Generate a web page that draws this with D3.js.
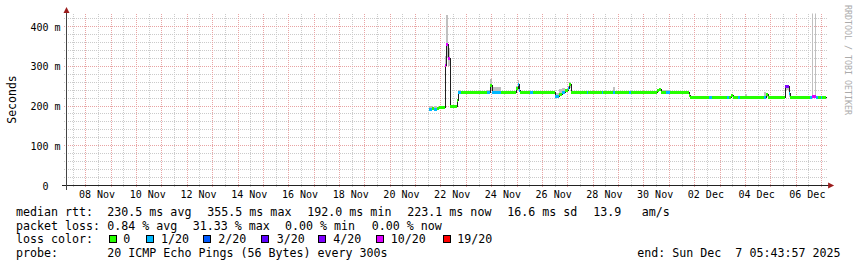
<!DOCTYPE html>
<html>
<head>
<meta charset="utf-8">
<script src="https://cdn.jsdelivr.net/npm/d3@7"></script>
<style>
  body { margin: 0; background: #fff; }
  text { font-family: "DejaVu Sans Mono", monospace; white-space: pre; }
</style>
</head>
<body>
<div id="graph"></div>
<script>
// ---- data ----
const startTime = "2025-11-07T05:43:57";
const endTime = "2025-12-07T05:43:57";
const lastUpdate = "2025-12-07T03:50";

const stepTimes = [
  "2025-11-21T12:15", "2025-11-21T15:05", "2025-11-21T17:00", "2025-11-21T19:50", "2025-11-21T21:45",
  "2025-11-22T03:25", "2025-11-22T04:50", "2025-11-22T06:45", "2025-11-22T08:35", "2025-11-22T14:45",
  "2025-11-22T16:10", "2025-11-22T18:30", "2025-11-23T19:10", "2025-11-23T22:25", "2025-11-23T23:50",
  "2025-11-24T08:25", "2025-11-24T23:05", "2025-11-25T00:30", "2025-11-25T01:55", "2025-11-25T02:50",
  "2025-11-25T11:50", "2025-11-25T14:40", "2025-11-26T11:30", "2025-11-26T15:15", "2025-11-26T18:05",
  "2025-11-26T20:55", "2025-11-26T23:45", "2025-11-27T01:10", "2025-11-27T02:35", "2025-11-27T17:45",
  "2025-11-27T19:10", "2025-11-28T07:55", "2025-11-28T09:20", "2025-11-28T18:50", "2025-11-28T20:40",
  "2025-11-29T09:55", "2025-11-29T11:20", "2025-11-30T12:00", "2025-11-30T13:50", "2025-11-30T15:45",
  "2025-11-30T20:30", "2025-12-01T00:15", "2025-12-01T18:40", "2025-12-01T19:35", "2025-12-02T13:35",
  "2025-12-02T16:00", "2025-12-03T06:10", "2025-12-03T08:05", "2025-12-03T10:25", "2025-12-03T11:50",
  "2025-12-03T16:35", "2025-12-03T18:55", "2025-12-03T23:10", "2025-12-04T01:05", "2025-12-04T17:40",
  "2025-12-04T19:35", "2025-12-04T21:25", "2025-12-05T13:30", "2025-12-05T16:50", "2025-12-05T18:15",
  "2025-12-06T12:40", "2025-12-06T15:05", "2025-12-06T16:20", "2025-12-06T17:25", "2025-12-06T18:35",
  "2025-12-06T20:15", "2025-12-06T23:05", "2025-12-07T00:30"
];
const medianMs = [
  193, 195, 192, 194, 198,
  302, 355, 320, 199, 215,
  236, 236, 235, 252, 236,
  236, 245, 255, 240, 234,
  234, 234, 226, 231, 236,
  240, 246, 255, 234, 234,
  234, 234, 234, 234, 234,
  234, 234, 240, 244, 236,
  234, 234, 228, 223, 223,
  223, 223, 223, 227, 223,
  223, 223, 223, 223, 223,
  230, 223, 250, 232, 223,
  223, 224, 224, 224, 223,
  223, 223, 223
];
const lossCount = [
  1, 0, 1, 0, 0,
  10, 10, 10, 0, 0,
  1, 0, 1, 0, 1,
  0, 0, 1, 1, 0,
  1, 0, 1, 0, 1,
  0, 1, 0, 0, 1,
  0, 1, 0, 1, 0,
  1, 0, 0, 0, 0,
  1, 0, 0, 0, 1,
  0, 1, 0, 0, 0,
  1, 0, 0, 0, 1,
  0, 0, 4, 1, 0,
  1, 10, 10, 10, 1,
  0, 1, 0
];
const smokeLo = [
  189, 191, 189, 191, 196,
  290, 320, 300, 197, 212,
  233, 234, 232, 240, 232,
  234, 238, 240, 234, 232,
  232, 232, 222, 228, 230,
  235, 238, 245, 232, 232,
  232, 232, 232, 230, 232,
  232, 232, 236, 238, 232,
  231, 232, 226, 221, 221,
  221, 221, 221, 222, 221,
  221, 221, 219, 221, 220,
  222, 221, 240, 223, 221,
  221, 220, 221, 220, 221,
  221, 221, 221
];
const smokeHi = [
  199, 197, 200, 197, 200,
  325, 430, 345, 202, 218,
  240, 238, 240, 268, 247,
  238, 250, 266, 248, 236,
  237, 236, 233, 244, 245,
  244, 250, 260, 236, 236,
  236, 236, 236, 248, 236,
  236, 236, 244, 246, 241,
  241, 236, 230, 225, 225,
  225, 225, 225, 230, 225,
  225, 225, 231, 225, 235,
  233, 225, 253, 242, 225,
  225, 440, 228, 440, 225,
  225, 225, 225
];

const lossLevels = [0, 1, 2, 3, 4, 10, 19];
const lossColors = ["#26ff00", "#00b8ff", "#0059ff", "#5e00ff", "#7e00ff", "#dd00ff", "#ff0000"];
const lossLabels = ["0", "1/20", "2/20", "3/20", "4/20", "10/20", "19/20"];

const yTicks = [0, 100, 200, 300, 400];
const yTickLabels = ["0  ", "100 m", "200 m", "300 m", "400 m"];
const xLabelDays = [
  "2025-11-08", "2025-11-10", "2025-11-12", "2025-11-14", "2025-11-16", "2025-11-18", "2025-11-20",
  "2025-11-22", "2025-11-24", "2025-11-26", "2025-11-28", "2025-11-30", "2025-12-02", "2025-12-04", "2025-12-06"
];

const rttStats = ["median rtt:", "230.5 ms avg", "355.5 ms max", "192.0 ms min", "223.1 ms now", "16.6 ms sd", "13.9", "am/s"];
const lossStats = ["packet loss:", "0.84 % avg", "31.33 % max", "0.00 % min", "0.00 % now"];
const probeText = ["probe:", "20 ICMP Echo Pings (56 Bytes) every 300s"];
const endText = "end: Sun Dec  7 05:43:57 2025";

// ---- layout ----
const W = 857, H = 267;
const pLeft = 66.5, pRight = 827.6, pTop = 13.4, pBottom = 185.5;
const yMax = 433;

const parse = s => new Date(s + "Z");

const x = d3.scaleUtc().domain([parse(startTime), parse(endTime)]).range([pLeft, pRight]);
const y = d3.scaleLinear().domain([0, yMax]).range([pBottom, pTop]);

const svg = d3.select("#graph").append("svg")
  .attr("width", W).attr("height", H);

const defs = svg.append("defs");
defs.append("clipPath").attr("id", "plot")
  .append("rect").attr("x", pLeft).attr("y", pTop).attr("width", pRight - pLeft).attr("height", pBottom - pTop);

// 1px-on / 1px-off dot patterns for the rrdtool style grid
function dotPattern(id, color, horiz) {
  const p = defs.append("pattern").attr("id", id).attr("patternUnits", "userSpaceOnUse")
    .attr("width", horiz ? 2 : 1).attr("height", horiz ? 1 : 2);
  p.append("rect").attr("width", 1).attr("height", 1).attr("fill", color);
}
dotPattern("minH", "#cbcbcb", true);
dotPattern("minV", "#cbcbcb", false);
dotPattern("majH", "#e8a4a4", true);
dotPattern("majV", "#e8a4a4", false);

const gridG = svg.append("g").attr("shape-rendering", "crispEdges");
const minorY = d3.range(20, 440, 20).filter(v => v % 100 !== 0 && y(v) >= pTop);
const majorY = yTicks.filter(v => v > 0);
const minorX = d3.utcHour.every(12).range(parse(startTime), parse(endTime)).filter(d => d.getUTCHours() === 12);
const majorX = d3.utcDay.range(parse(startTime), parse(endTime));

function hGrid(vals, pat) {
  gridG.selectAll(null).data(vals).enter().append("rect")
    .attr("x", 64).attr("width", 764)
    .attr("y", d => Math.round(y(d) - 0.5)).attr("height", 1)
    .attr("fill", `url(#${pat})`);
}
function vGrid(vals, pat) {
  gridG.selectAll(null).data(vals).enter().append("rect")
    .attr("x", d => Math.round(x(d) - 0.5)).attr("width", 1)
    .attr("y", 13).attr("height", 175)
    .attr("fill", `url(#${pat})`);
}
hGrid(minorY, "minH");
vGrid(minorX, "minV");
hGrid(majorY, "majH");
vGrid(majorX, "majV");

// data
const steps = stepTimes.map((t, i) => ({
  t0: parse(t),
  t1: parse(i + 1 < stepTimes.length ? stepTimes[i + 1] : lastUpdate),
  med: medianMs[i], loss: lossCount[i], lo: smokeLo[i], hi: smokeHi[i]
}));
const lossColor = l => lossColors[lossLevels.findIndex(v => v >= l)];

const dataG = svg.append("g").attr("clip-path", "url(#plot)").attr("shape-rendering", "crispEdges");

dataG.selectAll("rect.smoke").data(steps).enter().append("rect")
  .attr("x", d => x(d.t0)).attr("width", d => x(d.t1) - x(d.t0))
  .attr("y", d => y(d.hi)).attr("height", d => y(d.lo) - y(d.hi))
  .attr("fill", "#c0c0c0");

const linePts = steps.map(d => [d.t0, d.med]).concat([[parse(lastUpdate), medianMs[medianMs.length - 1]]]);
dataG.append("path")
  .attr("d", d3.line().x(d => Math.round(x(d[0])) + 0.5).y(d => Math.round(y(d[1])) + 0.5).curve(d3.curveStepAfter)(linePts))
  .attr("fill", "none").attr("stroke", "#202020").attr("stroke-width", 1);

dataG.selectAll("rect.med").data(steps).enter().append("rect")
  .attr("x", d => Math.round(x(d.t0))).attr("width", d => Math.max(1, Math.round(x(d.t1)) - Math.round(x(d.t0))))
  .attr("y", d => Math.round(y(d.med)) - 1).attr("height", 3)
  .attr("fill", d => lossColor(d.loss));

// axes
const axG = svg.append("g").attr("shape-rendering", "crispEdges");
axG.append("line").attr("x1", 62).attr("x2", 829).attr("y1", pBottom).attr("y2", pBottom)
  .attr("stroke", "#222");
axG.append("line").attr("x1", pLeft).attr("x2", pLeft).attr("y1", 190).attr("y2", 12)
  .attr("stroke", "#444");
svg.append("path").attr("d", `M${pRight + 0.5},${pBottom - 3}L${pRight + 6.5},${pBottom}L${pRight + 0.5},${pBottom + 3}Z`)
  .attr("fill", "#9b1c1c");
svg.append("path").attr("d", `M${pLeft - 3},${pTop - 0.5}L${pLeft},${pTop - 6.5}L${pLeft + 3},${pTop - 0.5}Z`)
  .attr("fill", "#9b1c1c");

// tick labels
svg.selectAll("text.yl").data(yTicks).enter().append("text")
  .attr("x", 60.5).attr("y", d => Math.round(y(d)) + 3.6)
  .attr("text-anchor", "end").attr("font-size", "10px").attr("fill", "#000")
  .text((d, i) => yTickLabels[i]);

svg.selectAll("text.xl").data(xLabelDays).enter().append("text")
  .attr("x", d => x(d3.utcHour.offset(parse(d + "T00:00"), 12)) - 1.5).attr("y", 198.3)
  .attr("text-anchor", "middle").attr("font-size", "10px").attr("fill", "#000")
  .text(d => d3.utcFormat("%d %b")(parse(d + "T00:00")));

svg.append("text").attr("transform", "translate(15.5,99.5) rotate(-90)")
  .attr("text-anchor", "middle").attr("font-size", "11.5px").attr("fill", "#000").text("Seconds");

svg.append("text").attr("transform", "translate(845,5) rotate(90)")
  .attr("font-size", "8.3px").attr("fill", "#ababab").text("RRDTOOL / TOBI OETIKER");

// legend
const fs = "11.65px";
const base = [215.8, 229.5, 243.2, 256.9];
const rttX = [16, 107.3, 207.3, 307.3, 407.3, 507.3, 593.3, 641.7];
const lossX = [16, 107.3, 192.7, 285, 371.7];
const boxX = [109, 146, 203, 261, 318, 376, 443];
const boxLabelX = [123.3, 161, 218.3, 276.7, 333.3, 390.7, 457.3];

const legG = svg.append("g").attr("font-size", fs).attr("fill", "#000");
rttStats.forEach((s, i) => legG.append("text").attr("x", rttX[i]).attr("y", base[0]).text(s));
lossStats.forEach((s, i) => legG.append("text").attr("x", lossX[i]).attr("y", base[1]).text(s));
legG.append("text").attr("x", 16).attr("y", base[2]).text("loss color:");
lossLabels.forEach((s, i) => {
  legG.append("rect").attr("x", boxX[i] + 0.5).attr("y", 235.5).attr("width", 7).attr("height", 7)
    .attr("fill", lossColors[i]).attr("stroke", "#000").attr("shape-rendering", "crispEdges");
  legG.append("text").attr("x", boxLabelX[i]).attr("y", base[2]).text(s);
});
legG.append("text").attr("x", 16).attr("y", base[3]).text(probeText[0]);
legG.append("text").attr("x", 107.3).attr("y", base[3]).text(probeText[1]);
legG.append("text").attr("x", 840.5).attr("y", base[3]).attr("text-anchor", "end").text(endText);
</script>
</body>
</html>
